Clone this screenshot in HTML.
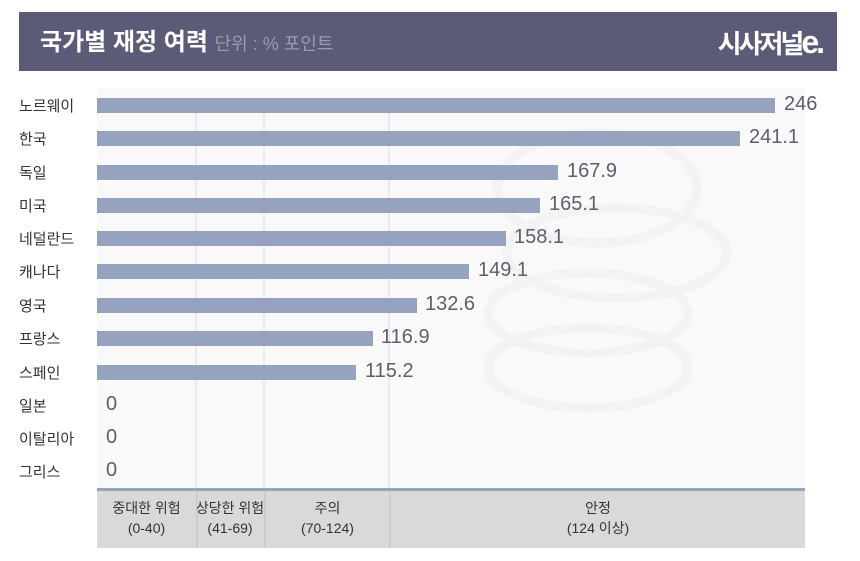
<!DOCTYPE html>
<html><head><meta charset="utf-8"><style>
body{margin:0;width:860px;height:561px;background:#fff;position:relative;overflow:hidden;font-family:"Liberation Sans","Noto Sans CJK KR",sans-serif}
.a{position:absolute}
.hdr{left:19px;top:12px;width:818px;height:59px;background:#5b5b78}
.lbl{font-size:15px;color:#333;left:19px;white-space:nowrap}
.bar{height:15px;background:#96a3be;left:97px}
.val{font-size:20px;color:#5a6070}
.bt{font-size:14px;color:#333;text-align:center;line-height:20px}
</style></head><body>
<div class="a hdr"></div>
<div class="a" style="left:40px;top:22px;font-size:24px;color:#fff;font-weight:bold;white-space:nowrap">국가별 재정 여력 <span style="font-size:18px;color:#9a9ab0;font-weight:normal">단위 : % 포인트</span></div>
<div class="a" style="right:38px;top:24px;font-size:26px;color:#fff;font-weight:bold;letter-spacing:-3px">시사저널<span style="font-size:32px">e.</span></div>
<div class="a" style="left:97px;top:88px;width:708px;height:400px;background:#f9f9f9"></div>
<svg class="a" style="left:97px;top:88px" width="708" height="400">
<g fill="none" stroke="#f3f3f3" stroke-width="9">
<ellipse cx="491" cy="280" rx="100" ry="40"/><ellipse cx="491" cy="225" rx="100" ry="40"/>
<ellipse cx="520" cy="165" rx="110" ry="45"/><ellipse cx="500" cy="100" rx="100" ry="55"/>
</g>
<g stroke="#e8eaf0" stroke-width="2"><line x1="99" y1="20" x2="99" y2="460"/><line x1="167" y1="20" x2="167" y2="460"/><line x1="292" y1="20" x2="292" y2="460"/></g>
</svg>
<div class="a" style="left:97px;top:488px;width:708px;height:60px;background:#d9d9d9;border-top:3px solid #96a3be;box-sizing:border-box"></div>
<div class="a" style="left:196px;top:491px;width:2px;height:57px;background:#ccc"></div>
<div class="a" style="left:264px;top:491px;width:2px;height:57px;background:#ccc"></div>
<div class="a" style="left:389px;top:491px;width:2px;height:57px;background:#ccc"></div>
<div class="a bt" style="left:97px;top:498px;width:99px">중대한 위험<br>(0-40)</div>
<div class="a bt" style="left:190px;top:498px;width:80px">상당한 위험<br>(41-69)</div>
<div class="a bt" style="left:266px;top:498px;width:123px">주의<br>(70-124)</div>
<div class="a bt" style="left:391px;top:498px;width:414px">안정<br>(124 이상)</div>

<div class="a lbl" style="top:95px">노르웨이</div><div class="a bar" style="top:98px;width:678px"></div><div class="a val" style="left:784px;top:93px">246</div>
<div class="a lbl" style="top:128px">한국</div><div class="a bar" style="top:131px;width:643px"></div><div class="a val" style="left:749px;top:126px">241.1</div>
<div class="a lbl" style="top:162px">독일</div><div class="a bar" style="top:165px;width:461px"></div><div class="a val" style="left:567px;top:160px">167.9</div>
<div class="a lbl" style="top:195px">미국</div><div class="a bar" style="top:198px;width:443px"></div><div class="a val" style="left:549px;top:193px">165.1</div>
<div class="a lbl" style="top:228px">네덜란드</div><div class="a bar" style="top:231px;width:409px"></div><div class="a val" style="left:514px;top:226px">158.1</div>
<div class="a lbl" style="top:261px">캐나다</div><div class="a bar" style="top:264px;width:372px"></div><div class="a val" style="left:478px;top:259px">149.1</div>
<div class="a lbl" style="top:295px">영국</div><div class="a bar" style="top:298px;width:320px"></div><div class="a val" style="left:425px;top:293px">132.6</div>
<div class="a lbl" style="top:328px">프랑스</div><div class="a bar" style="top:331px;width:276px"></div><div class="a val" style="left:381px;top:326px">116.9</div>
<div class="a lbl" style="top:362px">스페인</div><div class="a bar" style="top:365px;width:259px"></div><div class="a val" style="left:365px;top:360px">115.2</div>
<div class="a lbl" style="top:395px">일본</div><div class="a val" style="left:106px;top:393px">0</div>
<div class="a lbl" style="top:428px">이탈리아</div><div class="a val" style="left:106px;top:426px">0</div>
<div class="a lbl" style="top:461px">그리스</div><div class="a val" style="left:106px;top:459px">0</div>
</body></html>
